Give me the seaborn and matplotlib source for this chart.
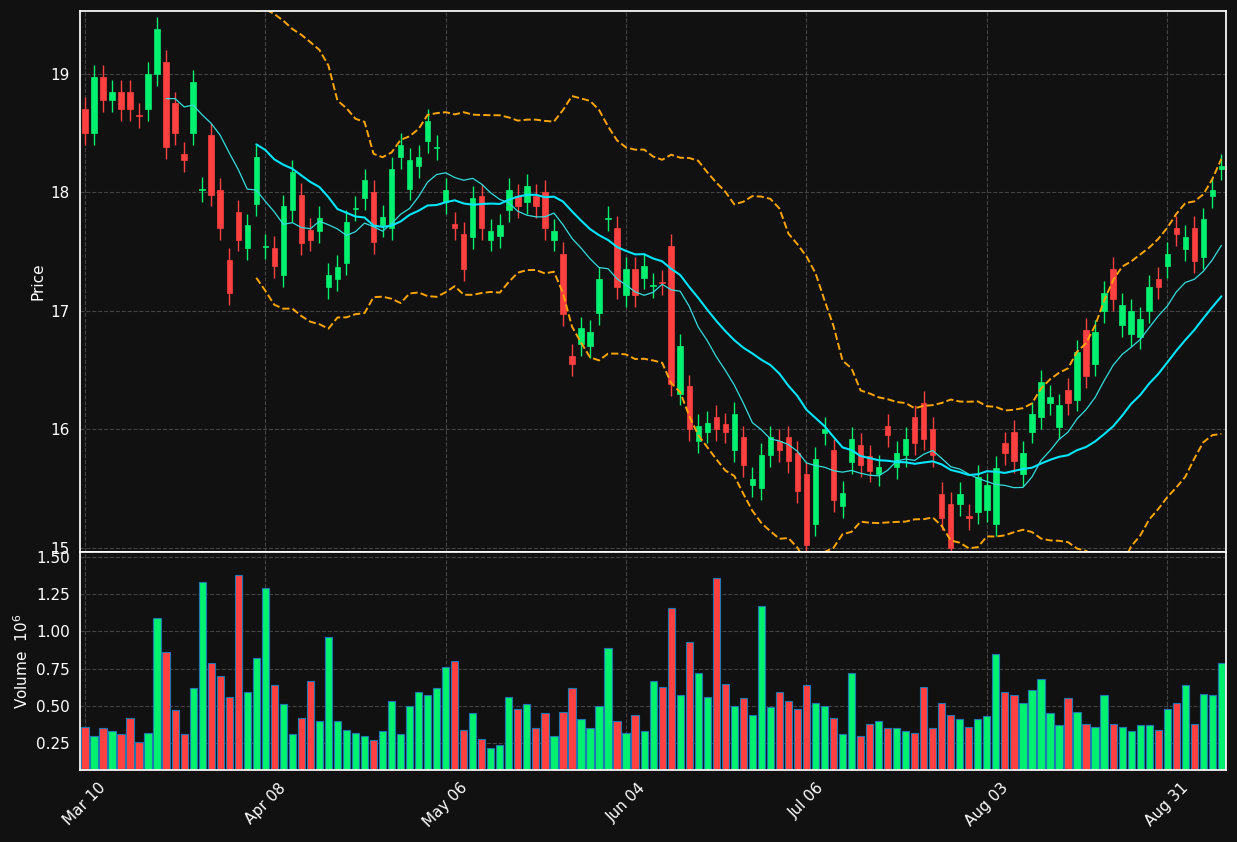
import numpy as np
import pandas as pd
import matplotlib
matplotlib.use("Agg")
import matplotlib.pyplot as plt
import seaborn as sns

opens = [18.7,18.5,18.97,18.78,18.85,18.85,18.65,18.7,19.0,19.1,18.75,18.32,18.5,18.02,18.48,18.02,17.43,17.83,17.53,17.9,
         17.54,17.53,17.3,17.85,17.98,17.68,17.67,17.2,17.27,17.4,17.86,17.95,18.0,17.72,17.7,18.3,18.03,18.22,18.43,18.37,
         17.92,17.73,17.65,17.62,17.97,17.6,17.63,17.85,17.97,17.92,17.97,18.0,17.6,17.48,16.62,16.72,16.7,16.98,17.77,17.7,
         17.13,17.35,17.28,17.21,17.24,17.55,16.3,16.36,15.9,15.98,16.1,16.04,15.82,15.93,15.53,15.5,15.78,15.9,15.93,15.8,
         15.62,15.2,15.97,15.82,15.35,15.72,15.87,15.77,15.62,16.03,15.68,15.78,16.1,16.22,16.0,15.45,15.37,15.37,15.27,15.3,
         15.32,15.2,15.88,15.98,15.62,15.98,16.1,16.22,16.02,16.33,16.25,16.84,16.55,17.0,17.35,16.88,16.8,16.78,17.0,17.27,
         17.38,17.7,17.52,17.7,17.45,17.97,18.2]
closes = [18.5,18.97,18.78,18.85,18.7,18.7,18.64,19.0,19.38,18.38,18.5,18.27,18.93,18.03,17.98,17.7,17.15,17.6,17.72,18.3,
          17.55,17.38,17.88,18.17,17.57,17.6,17.78,17.3,17.37,17.75,17.87,18.1,17.58,17.79,18.2,18.4,18.27,18.3,18.6,18.38,
          18.02,17.7,17.35,17.95,17.7,17.67,17.72,18.02,17.88,18.05,17.88,17.7,17.67,16.97,16.55,16.85,16.82,17.27,17.78,17.2,
          17.35,17.13,17.38,17.22,17.23,16.38,16.7,16.0,16.03,16.05,16.0,15.98,16.13,15.7,15.58,15.78,15.93,15.82,15.73,15.48,
          15.02,15.75,16.0,15.4,15.46,15.92,15.7,15.65,15.68,15.95,15.8,15.92,15.88,15.92,15.78,15.25,15.0,15.45,15.25,15.6,
          15.53,15.67,15.8,15.73,15.8,16.13,16.4,16.27,16.2,16.22,16.65,16.45,16.82,17.15,17.1,17.05,17.0,16.93,17.2,17.2,
          17.48,17.65,17.62,17.42,17.77,18.02,18.22]
volumes = [0.36,0.30,0.35,0.33,0.31,0.42,0.26,0.32,1.09,0.86,0.47,0.31,0.62,1.33,0.79,0.70,0.56,1.38,0.59,0.82,
           1.29,0.64,0.51,0.31,0.42,0.67,0.40,0.96,0.40,0.34,0.32,0.30,0.27,0.33,0.53,0.31,0.50,0.59,0.57,0.62,
           0.76,0.80,0.34,0.45,0.28,0.22,0.24,0.56,0.48,0.51,0.35,0.45,0.30,0.46,0.62,0.41,0.35,0.50,0.89,0.40,
           0.32,0.44,0.33,0.67,0.63,1.16,0.57,0.93,0.72,0.56,1.36,0.65,0.50,0.55,0.44,1.17,0.49,0.59,0.53,0.48,
           0.64,0.52,0.50,0.42,0.31,0.72,0.30,0.38,0.40,0.35,0.35,0.33,0.32,0.63,0.35,0.52,0.44,0.41,0.36,0.41,
           0.43,0.85,0.59,0.57,0.52,0.61,0.68,0.45,0.37,0.55,0.46,0.38,0.36,0.57,0.38,0.36,0.33,0.37,0.37,0.34,
           0.48,0.52,0.64,0.38,0.58,0.57,0.79]
tick_labels = ["Mar 10", "Apr 08", "May 06", "Jun 04", "Jul 06", "Aug 03", "Aug 31"]
wick = 0.1

BG = "#111111"
GREEN = "#00f070"
RED = "#ff4040"

sns.set_theme(style="dark")
plt.rcParams['font.family'] = ['DejaVu Sans']

df = pd.DataFrame({"open": opens, "close": closes, "vol": volumes})
df["i"] = np.arange(len(df))
df["high"] = df[["open", "close"]].max(axis=1) + wick
df["low"] = df[["open", "close"]].min(axis=1) - wick
df["ma10"] = df["close"].rolling(10).mean()
df["ma20"] = df["close"].rolling(20).mean()
sd = df["close"].rolling(20).std()
df["up"] = df["ma20"] + 2 * sd
df["dn"] = df["ma20"] - 2 * sd
up = df["close"] >= df["open"]
colors = np.where(up, GREEN, RED)

fig = plt.figure(figsize=(12.37, 8.42), dpi=100, facecolor=BG)
ax = fig.add_axes([0.065, 0.344, 0.926, 0.643])
axv = fig.add_axes([0.065, 0.0855, 0.926, 0.2585], sharex=ax)

for a in (ax, axv):
    a.set_facecolor(BG)
    for s in a.spines.values():
        s.set_color("white")
    a.grid(True, color="#444444", linestyle="--", linewidth=0.8)
    a.tick_params(colors="white", labelsize=11, length=4)

ax.vlines(df["i"], df["low"], df["high"], colors=colors, linewidth=1)
ax.bar(df["i"], (df["close"] - df["open"]).abs().clip(lower=0.01),
       bottom=df[["open", "close"]].min(axis=1), width=0.6, color=colors, edgecolor=colors, linewidth=0.5)
sns.lineplot(data=df, x="i", y="ma10", ax=ax, color="#33dddd", linewidth=0.9)
sns.lineplot(data=df, x="i", y="ma20", ax=ax, color="#00e5ff", linewidth=1.5)
sns.lineplot(data=df, x="i", y="up", ax=ax, color="orange", linewidth=1.4, linestyle="--")
sns.lineplot(data=df, x="i", y="dn", ax=ax, color="orange", linewidth=1.4, linestyle="--")
ax.set_ylim(14.96, 19.53)
ax.set_ylabel("Price", color="white", fontsize=11)
ax.set_xlabel("")
plt.setp(ax.get_xticklabels(), visible=False)

axv.bar(df["i"], df["vol"], width=0.8, color=colors, edgecolor="#1f77b4", linewidth=0.8)
axv.set_ylim(0.07, 1.53)
axv.set_yticks([0.25, 0.5, 0.75, 1.0, 1.25, 1.5])
axv.set_ylabel("Volume  $10^6$", color="white", fontsize=11)
axv.set_xlim(-0.5, len(df) - 0.5)
axv.set_xticks(np.arange(0, 121, 20))
axv.set_xticklabels(tick_labels, rotation=45, color="white")

fig.savefig("out.png", dpi=100, facecolor=BG)
